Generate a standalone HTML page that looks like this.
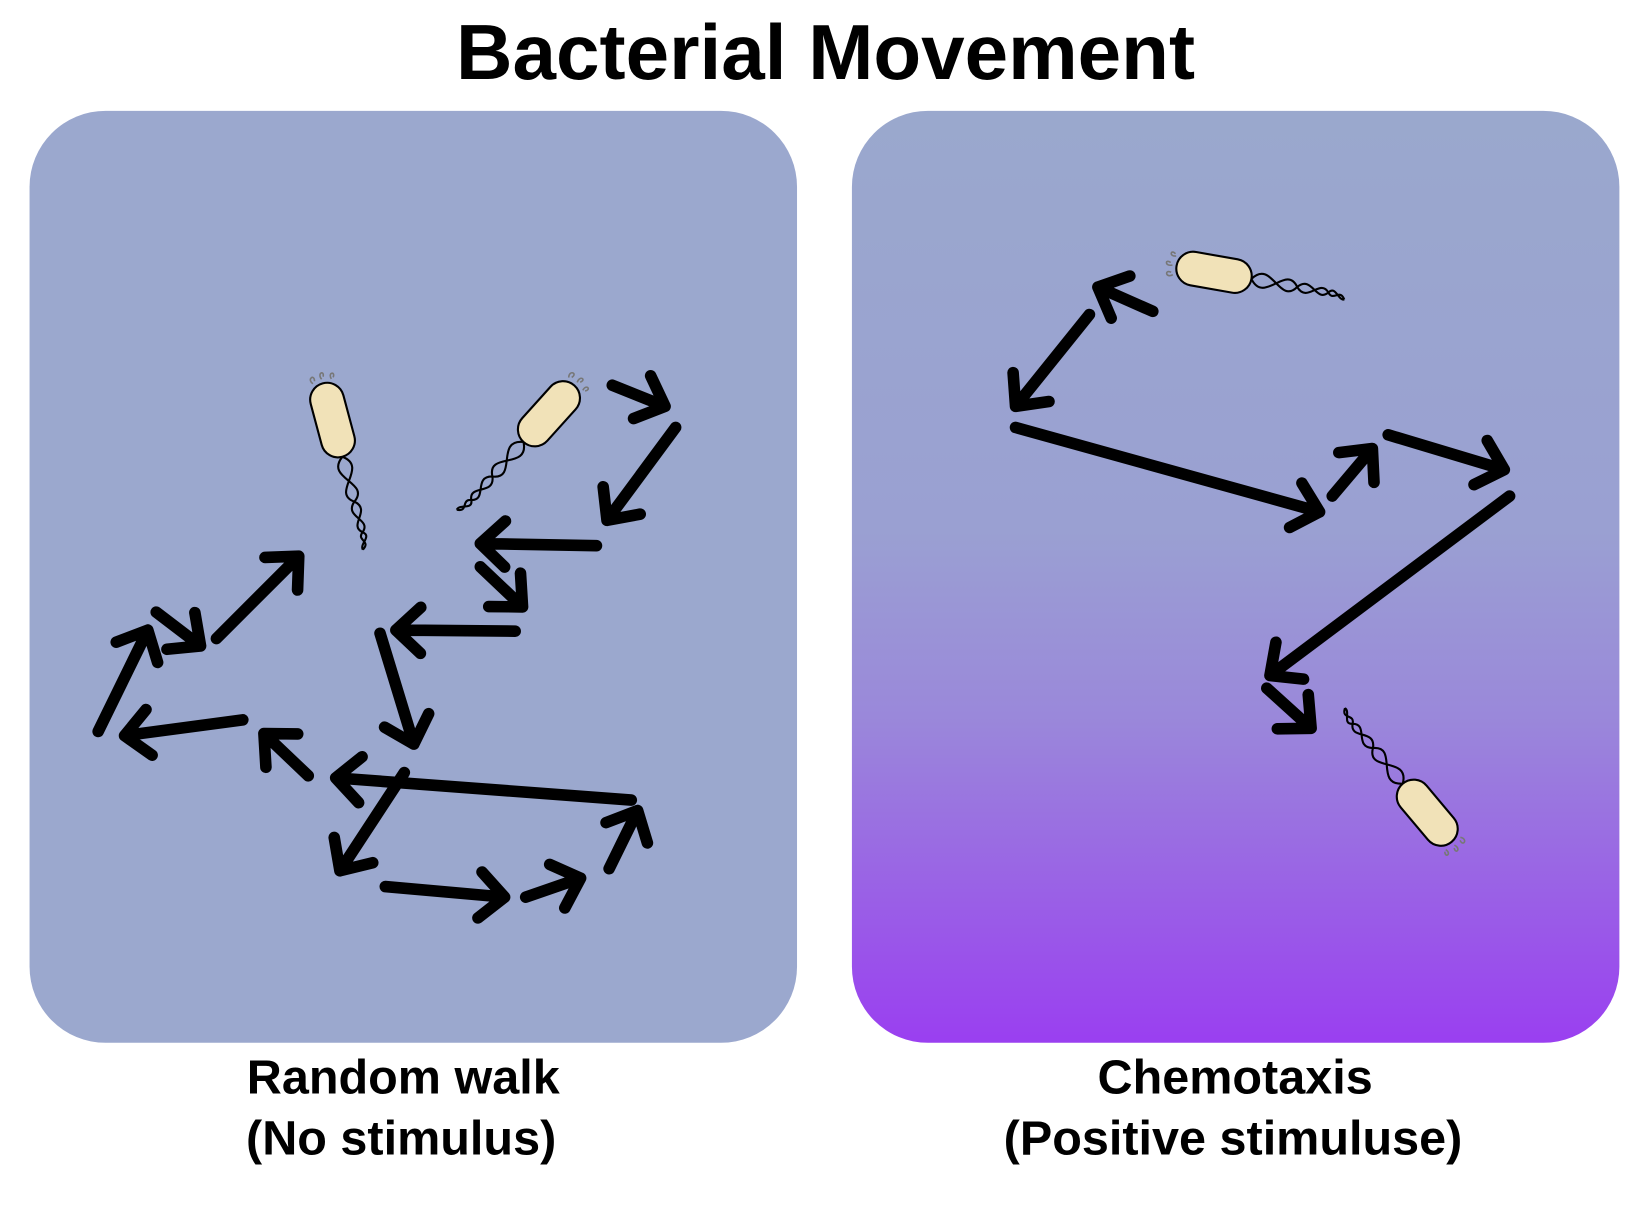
<!DOCTYPE html>
<html><head><meta charset="utf-8"><style>
html,body{margin:0;padding:0;background:#fff;}
svg{display:block;}
text{font-family:"Liberation Sans",sans-serif;font-weight:bold;}
</style></head><body>
<svg width="1650" height="1218" viewBox="0 0 1563 1154" preserveAspectRatio="none">
<defs>
<linearGradient id="g" x1="0" y1="0" x2="0" y2="1">
<stop offset="0" stop-color="#9aa8cd"/>
<stop offset="0.45" stop-color="#9aa0d2"/>
<stop offset="0.65" stop-color="#9a88da"/>
<stop offset="1" stop-color="#9a3ff0"/>
</linearGradient>
</defs>
<text x="782" y="75" font-size="74" text-anchor="middle" textLength="700" lengthAdjust="spacingAndGlyphs">Bacterial Movement</text>
<rect x="28" y="105" width="727" height="883" rx="72" fill="#9ba8ce"/>
<rect x="807" y="105" width="727" height="883" rx="72" fill="url(#g)"/>
<g id="arrows" stroke="#000" stroke-width="11" stroke-linecap="round" stroke-linejoin="round" fill="none"></g>
<g id="bact"></g>
<text x="382" y="1036" font-size="46" text-anchor="middle">Random walk</text>
<text x="380" y="1094" font-size="46" text-anchor="middle">(No stimulus)</text>
<text x="1170" y="1036" font-size="46" text-anchor="middle">Chemotaxis</text>
<text x="1168" y="1094" font-size="46" text-anchor="middle">(Positive stimuluse)</text>
</svg>
<script>
const leftArrows=[[93,693,140,597],[148,580,190,612],[205,605,283,527],[230,682,118,697],[292,735,250,695],[598,758,318,737],[383,732,322,825],[365,840,478,850],[498,850,550,832],[577,823,604,768],[360,600,392,705],[488,598,375,597],[455,537,495,575],[565,517,455,515],[640,405,575,493],[580,365,630,385]];
const rightArrows=[[1092,295,1040,272],[1032,298,962,385],[962,405,1250,485],[1262,470,1300,425],[1315,412,1425,445],[1430,470,1203,640],[1200,652,1242,690]];
const NS='http://www.w3.org/2000/svg';
const g=document.getElementById('arrows');
function arrow(a,i,side){
  const [x1,y1,x2,y2]=a;
  const ang=Math.atan2(y2-y1,x2-x1),L=32,s=0.75;
  const p=document.createElementNS(NS,'path');
  const h1=[x2-L*Math.cos(ang-s),y2-L*Math.sin(ang-s)],h2=[x2-L*Math.cos(ang+s),y2-L*Math.sin(ang+s)];
  p.setAttribute('d',`M${x1},${y1}L${x2},${y2}M${h1[0]},${h1[1]}L${x2},${y2}L${h2[0]},${h2[1]}`);
  
  
  g.appendChild(p);
}
leftArrows.forEach((a,i)=>arrow(a,i,'random-walk'));
rightArrows.forEach((a,i)=>arrow(a,i,'chemotaxis'));
const bacteria=[[315,398,-15],[520,392,42],[1150,258,-80],[1352,770,140]];
const bg=document.getElementById('bact');
bacteria.forEach((b,i)=>{
  const [cx,cy,rot]=b;
  const grp=document.createElementNS(NS,'g');
  grp.setAttribute('transform',`translate(${cx},${cy}) rotate(${rot})`);
  grp.innerHTML='<rect x="-16" y="-36" width="32" height="72" rx="16" fill="#f1e2b8" stroke="#000" stroke-width="2"/>'+
  '<path d="M0,36 C-22,52 20,66 0,80 C-14,92 12,100 0,110 C-8,116 6,120 -4,126 M0,36 C22,52 -20,66 0,80 C14,92 -12,100 0,110 C8,116 -6,120 -4,126" stroke="#000" stroke-width="2" fill="none"/>'+
  '<path d="M-9,-38 c-5,-6 4,-9 2,-2 M0,-40 c-3,-7 5,-8 2,-2 M9,-38 c-2,-7 6,-6 2,-1" stroke="#777" stroke-width="1.5" fill="none"/>';
  
  
  bg.appendChild(grp);
});
</script>
</body></html>
